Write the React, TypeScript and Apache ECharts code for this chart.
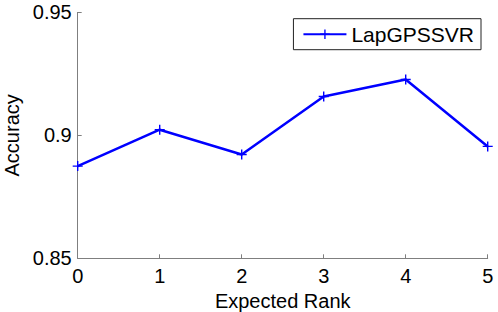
import React, { useEffect, useRef } from "react";
import * as echarts from "echarts";

const seriesName = "LapGPSSVR";
const xValues = [0, 1, 2, 3, 4, 5];
const accuracy = [0.8875, 0.9023, 0.8922, 0.9158, 0.9227, 0.8955];
const xTickLabels = ["0", "1", "2", "3", "4", "5"];
const yTickLabels = ["0.85", "0.9", "0.95"];

const FONT = "Liberation Sans, Arial, Helvetica, sans-serif";

export default function App() {
  const ref = useRef<HTMLDivElement>(null);
  useEffect(() => {
    if (!ref.current) return;
    const chart = echarts.init(ref.current, undefined, { renderer: "svg" });
    const axisColor = "#7f7f7f";
    chart.setOption({
      animation: false,
      backgroundColor: "#ffffff",
      grid: {
        left: 77.7,
        right: 10.3,
        top: 12.4,
        bottom: 53.7,
        containLabel: false,
        outerBoundsMode: "none",
      },
      legend: {
        data: [seriesName],
        right: 17,
        top: 18.7,
        orient: "horizontal",
        itemWidth: 43,
        itemHeight: 12,
        itemGap: 5,
        padding: [5, 7, 5, 9],
        borderColor: "#222",
        borderWidth: 1,
        backgroundColor: "#fff",
        textStyle: { fontFamily: FONT, fontSize: 21, color: "#000", padding: [0, 0, 0, 0] },
      },
      xAxis: {
        type: "value",
        min: 0,
        max: 5,
        interval: 1,
        name: "Expected Rank",
        nameLocation: "middle",
        nameGap: 30.5,
        nameTextStyle: { fontFamily: FONT, fontSize: 20, color: "#000" },
        axisLine: { show: true, lineStyle: { color: axisColor, width: 1 } },
        axisTick: { show: true, inside: true, length: 4, lineStyle: { color: axisColor } },
        axisLabel: {
          fontFamily: FONT,
          fontSize: 20,
          color: "#000",
          margin: 8,
          formatter: (v: number) => xTickLabels[xValues.indexOf(v)] ?? "",
        },
        splitLine: { show: false },
      },
      yAxis: {
        type: "value",
        min: 0.85,
        max: 0.95,
        interval: 0.05,
        name: "Accuracy",
        nameLocation: "middle",
        nameGap: 55,
        nameTextStyle: { fontFamily: FONT, fontSize: 20, color: "#000" },
        axisLine: { show: true, lineStyle: { color: axisColor, width: 1 } },
        axisTick: { show: true, inside: true, length: 4, lineStyle: { color: axisColor } },
        axisLabel: {
          fontFamily: FONT,
          fontSize: 20,
          color: "#000",
          margin: 6,
          formatter: (v: number) => {
            const i = Math.round((v - 0.85) / 0.05);
            return yTickLabels[i] ?? "";
          },
        },
        splitLine: { show: false },
      },
      series: [
        {
          name: seriesName,
          type: "line",
          data: xValues.map((x, i) => [x, accuracy[i]]),
          lineStyle: { color: "#0000ff", width: 2.5 },
          itemStyle: { color: "#0000ff" },
          symbol: "path://M-1,-0.14H1V0.14H-1Z M-0.14,-1H0.14V1H-0.14Z",
          symbolSize: 10,
          showSymbol: true,
        },
      ],
    });
    return () => chart.dispose();
  }, []);
  return (
    <div
      ref={ref}
      style={{ position: "fixed", left: 0, top: 0, width: 498, height: 312 }}
    />
  );
}
